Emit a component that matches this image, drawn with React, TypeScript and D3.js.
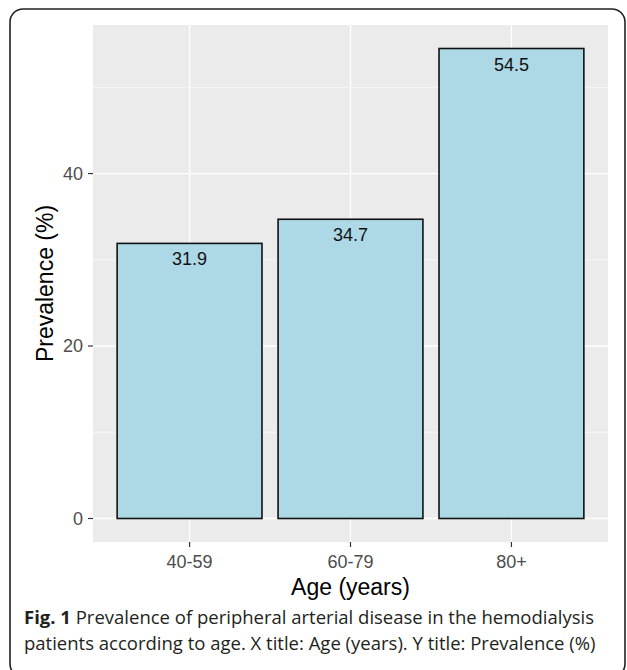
import { useMemo } from 'react';
import * as d3 from 'd3';

// Chart data
const categories = ['40-59', '60-79', '80+'];
const prevalence = [31.9, 34.7, 54.5];
const majorTicks = [0, 20, 40];
const minorTicks = [10, 30, 50];

const xTitle = 'Age (years)';
const yTitle = 'Prevalence (%)';
const captionBold = 'Fig. 1';
const captionLine1 = ' Prevalence of peripheral arterial disease in the hemodialysis';
const captionLine2 = 'patients according to age. X title: Age (years). Y title: Prevalence (%)';

const W = 627;
const H = 670;
const panel = { left: 93, right: 608, top: 25, bottom: 542 };
const axisFont = 'Liberation Sans, Arial, sans-serif';

export default function App() {
  const maxVal = d3.max(prevalence) || 1;
  const pad = maxVal * 0.05;

  const x = useMemo(
    () =>
      d3
        .scaleBand<string>()
        .domain(categories)
        .range([panel.left, panel.right])
        .paddingInner(0.1)
        .paddingOuter(0.15),
    []
  );
  const y = useMemo(
    () => d3.scaleLinear().domain([-pad, maxVal + pad]).range([panel.bottom, panel.top]),
    [pad, maxVal]
  );
  const cx = (c: string) => (x(c) || 0) + x.bandwidth() / 2;

  return (
    <svg
      width={W}
      height={H}
      style={{ position: 'absolute', left: 0, top: 0, background: '#fff' }}
    >
      {/* outer rounded frame */}
      <rect
        x={10}
        y={9}
        width={615}
        height={668}
        rx={13}
        fill="none"
        stroke="#222"
        strokeWidth={1.6}
      />

      {/* panel */}
      <rect
        x={panel.left}
        y={panel.top}
        width={panel.right - panel.left}
        height={panel.bottom - panel.top}
        fill="#EBEBEB"
      />
      {minorTicks.map((t) => (
        <line
          key={`mn${t}`}
          x1={panel.left}
          x2={panel.right}
          y1={y(t)}
          y2={y(t)}
          stroke="#fff"
          strokeWidth={0.6}
        />
      ))}
      {majorTicks.map((t) => (
        <line
          key={`mj${t}`}
          x1={panel.left}
          x2={panel.right}
          y1={y(t)}
          y2={y(t)}
          stroke="#fff"
          strokeWidth={1.3}
        />
      ))}
      {categories.map((c) => (
        <line
          key={`gx${c}`}
          x1={cx(c)}
          x2={cx(c)}
          y1={panel.top}
          y2={panel.bottom}
          stroke="#fff"
          strokeWidth={1.3}
        />
      ))}

      {/* bars */}
      {categories.map((c, i) => (
        <g key={`bar${c}`}>
          <rect
            x={x(c)}
            y={y(prevalence[i])}
            width={x.bandwidth()}
            height={y(0) - y(prevalence[i])}
            fill="#ADD8E6"
            stroke="#111"
            strokeWidth={1.6}
          />
          <text
            x={cx(c)}
            y={y(prevalence[i]) + 22}
            textAnchor="middle"
            fontFamily={axisFont}
            fontSize={18}
            fill="#111"
          >
            {prevalence[i].toFixed(1)}
          </text>
        </g>
      ))}

      {/* y axis */}
      {majorTicks.map((t) => (
        <g key={`yt${t}`}>
          <line x1={88} x2={panel.left} y1={y(t)} y2={y(t)} stroke="#333" strokeWidth={1.2} />
          <text
            x={83}
            y={y(t)}
            dy="0.35em"
            textAnchor="end"
            fontFamily={axisFont}
            fontSize={18}
            fill="#4D4D4D"
          >
            {t}
          </text>
        </g>
      ))}

      {/* x axis */}
      {categories.map((c) => (
        <g key={`xt${c}`}>
          <line x1={cx(c)} x2={cx(c)} y1={panel.bottom} y2={panel.bottom + 5} stroke="#333" strokeWidth={1.2} />
          <text
            x={cx(c)}
            y={568}
            textAnchor="middle"
            fontFamily={axisFont}
            fontSize={18}
            fill="#4D4D4D"
          >
            {c}
          </text>
        </g>
      ))}

      {/* axis titles */}
      <text
        x={(panel.left + panel.right) / 2}
        y={595}
        textAnchor="middle"
        fontFamily={axisFont}
        fontSize={23}
        fill="#000"
      >
        {xTitle}
      </text>
      <text
        transform={`translate(53,${(panel.top + panel.bottom) / 2}) rotate(-90)`}
        textAnchor="middle"
        fontFamily={axisFont}
        fontSize={23}
        fill="#000"
      >
        {yTitle}
      </text>

      {/* caption */}
      <text x={24} y={624} fontFamily="Open Sans, sans-serif" fontSize={18.5} fill="#231f20">
        <tspan fontWeight="bold">{captionBold}</tspan>
        <tspan>{captionLine1}</tspan>
      </text>
      <text x={24} y={650} fontFamily="Open Sans, sans-serif" fontSize={18.5} fill="#231f20">
        {captionLine2}
      </text>
    </svg>
  );
}
